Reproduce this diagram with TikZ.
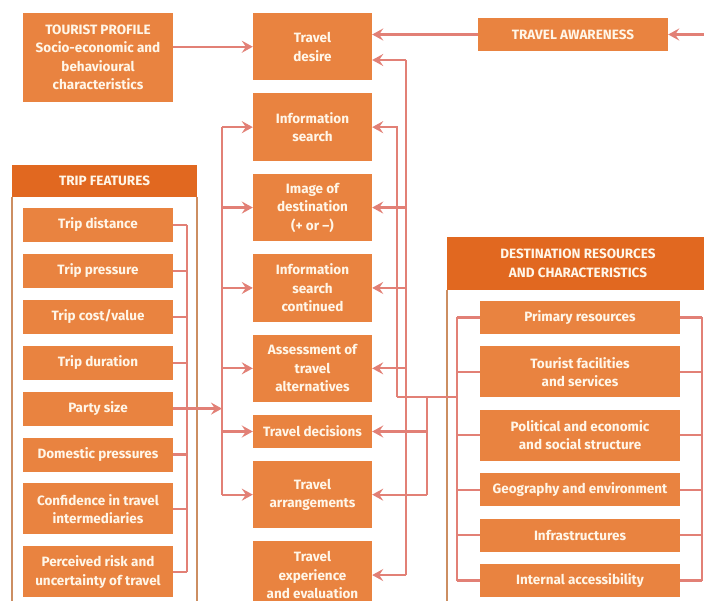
\documentclass[tikz,border=0pt]{standalone}
\usepackage{fontspec}
\setmainfont{Fira Sans}
\usetikzlibrary{positioning, arrows.meta, calc}
\definecolor{cBox}{RGB}{233,131,64}
\definecolor{cHead}{RGB}{225,104,32}
\definecolor{cLabel}{RGB}{255,246,232}
\definecolor{cLink}{RGB}{226,128,118}
\definecolor{cFrame}{RGB}{204,142,98}
\tikzset{
    box/.style={
        rectangle, fill=cBox, text=cLabel,
        inner sep=0pt, align=center,
        font=\bfseries\fontsize{13.5}{18.5}\selectfont,
        minimum width=119pt, minimum height=67.5pt,
    },
    featbox/.style={box, minimum width=150pt, minimum height=34pt},
    resbox/.style={box, minimum width=200pt, minimum height=33pt},
    headbox/.style={box, fill=cHead},
    flow/.style={
        -{Stealth[length=11pt, width=12pt, inset=4pt]}, line width=2.3pt, draw=cLink
    },
    link/.style={line width=2.3pt, draw=cLink},
    frame/.style={line width=1.7pt, draw=cFrame},
}

\begin{document}
\begin{tikzpicture}[x=1pt, y=-1pt, node distance=12.5pt]
\clip (0,0) rectangle (704,601);
\fill[white] (0,0) rectangle (704,601);

% ============================================================
%  Centre column: the stages of the travel decision
% ============================================================
\node[box] (desire) at (312.5,46.75) {Travel\\desire};
\node[box, below=of desire] (search) {Information\\search};
\node[box, below=of search] (image) {Image of\\destination\\(+ or --)};
\node[box, below=of image] (cont) {Information\\search\\continued};
\node[box, below=of cont] (assess) {Assessment of\\travel\\alternatives};
\node[box, below=of assess, minimum height=33pt] (decide) {Travel decisions};
\node[box, below=of decide] (arrange) {Travel\\arrangements};
\node[box, below=of arrange] (experience) {Travel\\experience\\and evaluation};

% ============================================================
%  Top row: tourist profile and travel awareness
% ============================================================
\node[box, minimum width=150pt, minimum height=89pt] (profile) at (98,57.5)
    {TOURIST PROFILE\\Socio-economic and\\behavioural\\characteristics};
\node[box, minimum width=190pt, minimum height=33pt] (awareness) at (573,34.5)
    {TRAVEL AWARENESS};
\coordinate (awIn) at (710,34.5);

\draw[flow] (desire.west -| profile.east) -- (desire.west);
\draw[flow] (awIn) -- (awareness.east);
\draw[flow] (awareness.west) -- (awareness.west -| desire.east);

% ============================================================
%  Left panel: trip features
% ============================================================
\node[headbox, minimum width=185pt, minimum height=32pt] (tripHead) at (104.5,181)
    {TRIP FEATURES};
\draw[frame] (tripHead.south west) -- ++(0,440);
\draw[frame] (tripHead.south east) -- ++(0,440);

\node[featbox] (t1) at (98,225) {Trip distance};
\node[featbox, below=11.5pt of t1] (t2) {Trip pressure};
\node[featbox, below=11.5pt of t2] (t3) {Trip cost/value};
\node[featbox, below=11.5pt of t3] (t4) {Trip duration};
\node[featbox, below=11.5pt of t4] (party) {Party size};
\node[featbox, below=11.5pt of party] (t6) {Domestic pressures};
\node[featbox, below=11.5pt of t6, minimum height=51pt] (t7)
    {Confidence in travel\\intermediaries};
\node[featbox, below=11.5pt of t7, minimum height=51pt] (t8)
    {Perceived risk and\\uncertainty of travel};

% Features collect on one bus, then feed the centre column.
\coordinate (tripBus) at (187,0);
\coordinate (leftBus) at (222,0);
\foreach \n in {t1,t2,t3,t4,party,t6,t7,t8}
    \draw[link] (\n.east) -- (\n.east -| tripBus);
\draw[link] (t1.east -| tripBus) -- (t8.east -| tripBus);
\draw[flow] (party.east -| tripBus) -- (party.east -| leftBus);

\draw[link] (search.west -| leftBus) -- (arrange.west -| leftBus);
\foreach \n in {search,image,cont,assess,decide,arrange}
    \draw[flow] (\n.west -| leftBus) -- (\n.west);

% ============================================================
%  Right panel: destination resources and characteristics
% ============================================================
\node[headbox, minimum width=262pt, minimum height=53pt] (destHead) at (578,263.5)
    {DESTINATION RESOURCES\\AND CHARACTERISTICS};
\draw[frame] (destHead.south west) -- ++(0,330);

\node[resbox] (r1) at (580,317.5) {Primary resources};
\node[resbox, below=12pt of r1, minimum height=51pt] (r2)
    {Tourist facilities\\and services};
\node[resbox, below=12pt of r2, minimum height=51pt] (r3)
    {Political and economic\\and social structure};
\node[resbox, below=12pt of r3] (r4) {Geography and environment};
\node[resbox, below=12pt of r4] (r5) {Infrastructures};
\node[resbox, below=12pt of r5] (r6) {Internal accessibility};

\coordinate (resBusL) at (457,0);
\coordinate (resBusR) at (702,0);
\foreach \n in {r1,r2,r3,r4,r5,r6} {
    \draw[link] (\n.west) -- (\n.west -| resBusL);
    \draw[link] (\n.east) -- (\n.east -| resBusR);
}
\draw[link] (r1.west -| resBusL) -- (r6.west -| resBusL);
\draw[link] (r1.east -| resBusR) -- (r6.east -| resBusR);

% Feedback lines from the destination into the centre column.
\coordinate (jA) at (397,397);
\coordinate (bTop) at (406,60);
\coordinate (cTop) at (427,397);

\draw[flow] (jA) |- (search.east);
\draw[link] (jA) -- (jA -| resBusL);

\draw[link] (bTop) -- (experience.east -| bTop);
\draw[flow] (bTop) -- (bTop -| desire.east);
\foreach \n in {image,cont,assess,experience}
    \draw[flow] (\n.east -| bTop) -- (\n.east);

\draw[link] (cTop) -- (arrange.east -| cTop);
\foreach \n in {decide,arrange}
    \draw[flow] (\n.east -| cTop) -- (\n.east);

\end{tikzpicture}
\end{document}
